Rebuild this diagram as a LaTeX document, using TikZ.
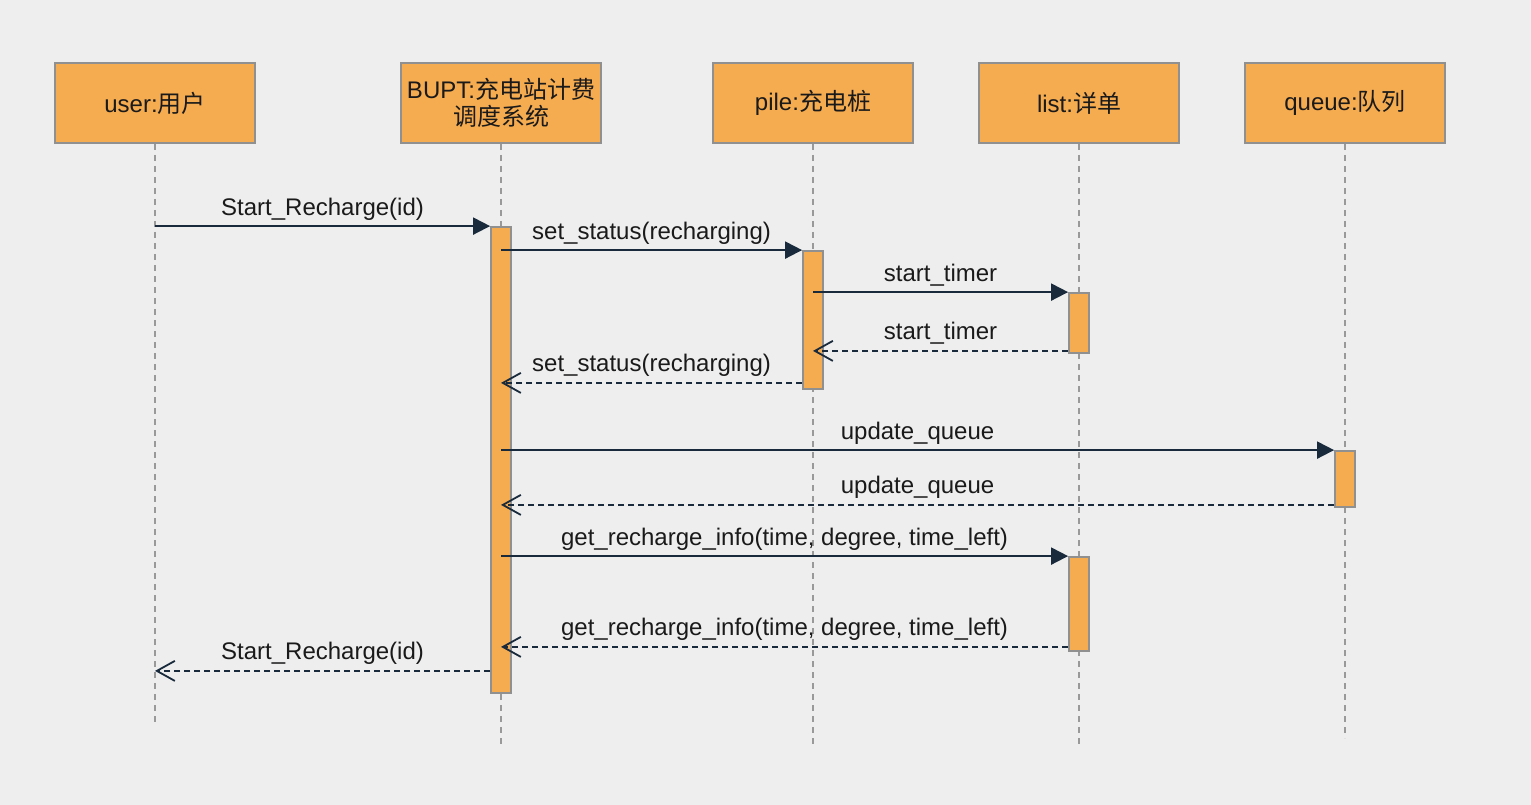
\documentclass[tikz,border=0pt]{standalone}
\usepackage{fontspec}
\setmainfont{Liberation Sans}
\newfontfamily\cjk{Noto Sans CJK SC}
\usetikzlibrary{arrows.meta}
\definecolor{bg}{HTML}{EEEEEE}
\definecolor{orangefill}{HTML}{F5AB50}
\definecolor{boxborder}{HTML}{909090}
\definecolor{lifegray}{HTML}{999999}
\definecolor{msgline}{HTML}{182A3B}
\definecolor{txt}{HTML}{1A1A1A}
\tikzset{
  actor/.style={draw=boxborder, line width=2pt, fill=orangefill, minimum width=200pt, minimum height=80pt,
    inner sep=0pt, align=center, text=txt, font=\fontsize{24}{28}\selectfont},
  bar/.style={draw=boxborder, line width=1.8pt, fill=orangefill, minimum width=20pt, inner sep=0pt},
  life/.style={draw=lifegray, line width=1.6pt, dash pattern=on 6pt off 5pt},
  call/.style={draw=msgline, line width=2pt, -{Triangle[length=17pt,width=17pt]}},
  ret/.style={draw=msgline, line width=1.8pt, dash pattern=on 6pt off 4pt, -{Straight Barb[length=18pt,width=20pt,line width=1.8pt]}},
  lbl/.style={midway, anchor=base, yshift=11pt, inner sep=0pt, text=txt, font=\fontsize{24}{28}\selectfont},
}
\begin{document}
\begin{tikzpicture}[x=1pt, y=-1pt]
\fill[bg] (0,0) rectangle (1531,805);
\useasboundingbox (0,0) rectangle (1531,805);
% actors
\node[actor] (u) at (155,103) {user:{\cjk 用户}};
\node[actor] (b) at (501,103) {BUPT:{\cjk 充电站计费}\\[-1pt]{\cjk 调度系统}};
\node[actor] (p) at (813,103) {pile:{\cjk 充电桩}};
\node[actor] (l) at (1079,103) {list:{\cjk 详单}};
\node[actor] (q) at (1345,103) {queue:{\cjk 队列}};
% lifeline ends
\coordinate (ue) at (155,725);
\coordinate (be) at (501,748);
\coordinate (pe) at (813,745);
\coordinate (le) at (1079,748);
\coordinate (qe) at (1345,738);
\draw[life] (u.south) -- (ue);
\draw[life] (b.south) -- (be);
\draw[life] (p.south) -- (pe);
\draw[life] (l.south) -- (le);
\draw[life] (q.south) -- (qe);
% activation bars
\node[bar, minimum height=466pt] (b1) at (501,460) {};
\node[bar, minimum height=138pt] (p1) at (813,320) {};
\node[bar, minimum height=60pt] (l1) at (1079,323) {};
\node[bar, minimum height=56pt] (q1) at (1345,479) {};
\node[bar, minimum height=94pt] (l2) at (1079,604) {};
% messages
\draw[call] (u |- b1.north) -- (b1.north west) node[lbl] {Start\_Recharge(id)};
\draw[call] (b1 |- p1.north) -- (p1.north west) node[lbl] {set\_status(recharging)};
\draw[call] (p1 |- l1.north) -- (l1.north west) node[lbl] {start\_timer};
\coordinate (m4) at ([yshift=3pt]l1.south west);
\draw[ret] (m4) -- (p1 |- m4) node[lbl] {start\_timer};
\coordinate (m5) at ([yshift=7pt]p1.south west);
\draw[ret] (m5) -- (b1 |- m5) node[lbl] {set\_status(recharging)};
\draw[call] (b1 |- q1.north) -- (q1.north west) node[lbl] {update\_queue};
\coordinate (m7) at ([yshift=3pt]q1.south west);
\draw[ret] (m7) -- (b1 |- m7) node[lbl] {update\_queue};
\draw[call] (b1 |- l2.north) -- (l2.north west) node[lbl] {get\_recharge\_info(time, degree, time\_left)};
\coordinate (m9) at ([yshift=5pt]l2.south west);
\draw[ret] (m9) -- (b1 |- m9) node[lbl] {get\_recharge\_info(time, degree, time\_left)};
\coordinate (m10) at ([yshift=23pt]b1.south west);
\draw[ret] (m10) -- (u |- m10) node[lbl] {Start\_Recharge(id)};
\end{tikzpicture}
\end{document}
